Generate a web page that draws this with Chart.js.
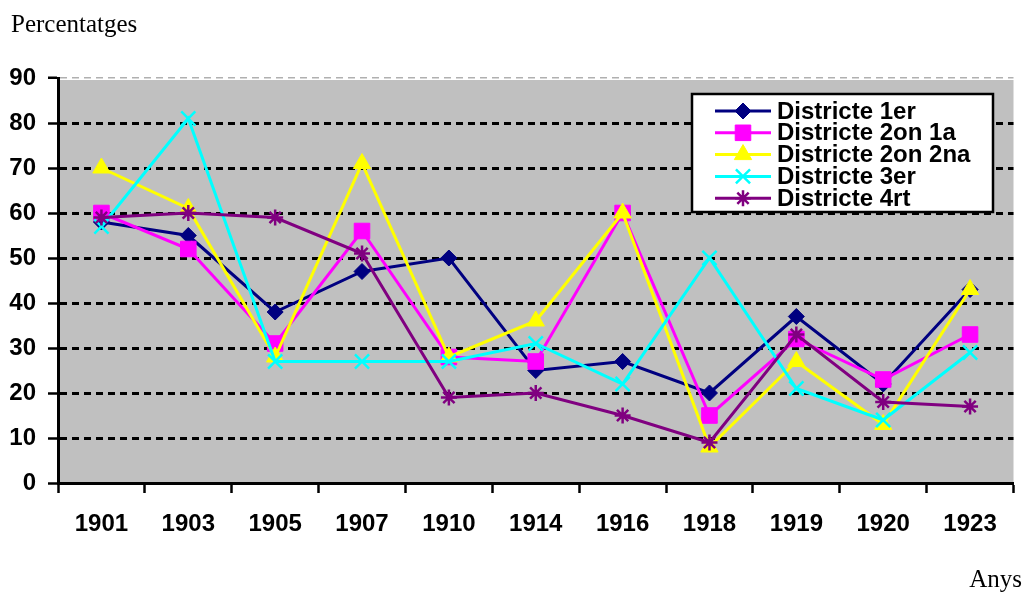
<!DOCTYPE html>
<html>
<head>
<meta charset="utf-8">
<script src="https://cdn.jsdelivr.net/npm/chart.js@4"></script>
<style>
  html, body { margin: 0; padding: 0; background: #fff; }
  #wrap { width: 1026px; height: 592px; position: relative; }
</style>
</head>
<body>
<div id="wrap"><canvas id="chart"></canvas></div>
<script>
const years = ['1901', '1903', '1905', '1907', '1910', '1914', '1916', '1918', '1919', '1920', '1923'];
const seriesNames = ['Districte 1er', 'Districte 2on 1a', 'Districte 2on 2na', 'Districte 3er', 'Districte 4rt'];

const districte1 = [58, 55, 38, 47, 50, 25, 27, 20, 37, 22, 43];
const districte2a = [60, 52, 31, 56, 28, 27, 60, 15, 32, 23, 33];
const districte2b = [70, 61, 28, 71, 28, 36, 60, 8, 27, 13, 43];
const districte3 = [57, 81, 27, 27, 27, 31, 22, 50, 21, 14, 29];
const districte4 = [59, 60, 59, 51, 19, 20, 15, 9, 33, 18, 17];

const yTicks = [0, 10, 20, 30, 40, 50, 60, 70, 80, 90];

const colors = ['#000080', '#ff00ff', '#ffff00', '#00ffff', '#800080'];
const markers = ['rectRot', 'rect', 'triangle', 'crossRot', 'star'];
const markerSize = [8, 11, 10, 10, 8];

const allSeries = [districte1, districte2a, districte2b, districte3, districte4];

const datasets = allSeries.map((vals, i) => ({
    label: seriesNames[i],
    data: vals,
    borderColor: colors[i],
    backgroundColor: colors[i],
    borderWidth: 3,
    pointStyle: markers[i],
    pointRadius: markerSize[i],
    pointHoverRadius: markerSize[i],
    pointBorderWidth: (markers[i] === 'crossRot' || markers[i] === 'star') ? 2.5 : 1,
    tension: 0,
    fill: false,
    order: 5 - i
}));

// gray plot area, axis captions and the boxed legend
const decor = {
    id: 'decor',
    beforeDraw(chart) {
        const { ctx, chartArea: a } = chart;
        ctx.save();
        ctx.fillStyle = '#c0c0c0';
        ctx.fillRect(a.left, a.top + 2, a.right - a.left, a.bottom - a.top - 2);
        ctx.restore();
    },
    afterDraw(chart) {
        const ctx = chart.ctx;
        ctx.save();
        ctx.fillStyle = '#000';
        ctx.font = '25px "Liberation Serif", "Times New Roman", serif';
        ctx.textBaseline = 'middle';
        ctx.textAlign = 'left';
        ctx.fillText('Percentatges', 11, 25);
        ctx.textAlign = 'right';
        ctx.fillText('Anys', 1022, 580);

        // legend
        const bx = 692, by = 94, bw = 301, bh = 118;
        ctx.fillStyle = '#fff';
        ctx.fillRect(bx, by, bw, bh);
        ctx.strokeStyle = '#000';
        ctx.lineWidth = 2.5;
        ctx.strokeRect(bx, by, bw, bh);

        ctx.font = 'bold 24px "Liberation Sans", Arial, sans-serif';
        ctx.textAlign = 'left';
        ctx.textBaseline = 'middle';
        seriesNames.forEach((name, i) => {
            const y = 111 + i * 21.8;
            ctx.strokeStyle = colors[i];
            ctx.lineWidth = 3;
            ctx.beginPath();
            ctx.moveTo(715, y);
            ctx.lineTo(771, y);
            ctx.stroke();
            ctx.fillStyle = colors[i];
            ctx.lineWidth = datasets[i].pointBorderWidth;
            Chart.helpers.drawPoint(ctx, {
                pointStyle: markers[i],
                radius: markerSize[i],
                rotation: 0,
                borderWidth: datasets[i].pointBorderWidth
            }, 743, y);
            ctx.fillStyle = '#000';
            ctx.fillText(name, 777, y + 1);
        });
        ctx.restore();
    }
};

new Chart(document.getElementById('chart'), {
    type: 'line',
    data: { labels: years, datasets: datasets },
    options: {
        responsive: true,
        maintainAspectRatio: false,
        animation: false,
        layout: { padding: { top: 78, right: 12, left: 0, bottom: 0 } },
        plugins: { legend: { display: false }, tooltip: { enabled: false } },
        scales: {
            x: {
                offset: true,
                afterFit(scale) { scale.height = 109; },
                grid: {
                    offset: true,
                    drawOnChartArea: false,
                    tickLength: 10,
                    tickColor: '#000',
                    tickWidth: 2.5
                },
                border: { color: '#000', width: 3 },
                ticks: {
                    color: '#000',
                    padding: 17,
                    maxRotation: 0,
                    font: { family: '"Liberation Sans", Arial, sans-serif', size: 24, weight: 'bold' }
                }
            },
            y: {
                min: 0,
                max: 90,
                afterFit(scale) { scale.width = 58; },
                afterBuildTicks(scale) { scale.ticks = yTicks.map(v => ({ value: v })); },
                grid: {
                    color: (c) => c.tick && c.tick.value === 0 ? 'rgba(0,0,0,0)' : (c.tick && c.tick.value === 90 ? '#b0b0b0' : '#000'),
                    lineWidth: (c) => c.tick && c.tick.value === 90 ? 1.5 : 3,
                    tickLength: 10,
                    tickColor: '#000',
                    tickWidth: 2.5
                },
                border: { color: '#000', width: 3, dash: [7, 5] },
                ticks: {
                    color: '#000',
                    padding: 12,
                    font: { family: '"Liberation Sans", Arial, sans-serif', size: 24, weight: 'bold' }
                }
            }
        }
    },
    plugins: [decor]
});
</script>
</body>
</html>
